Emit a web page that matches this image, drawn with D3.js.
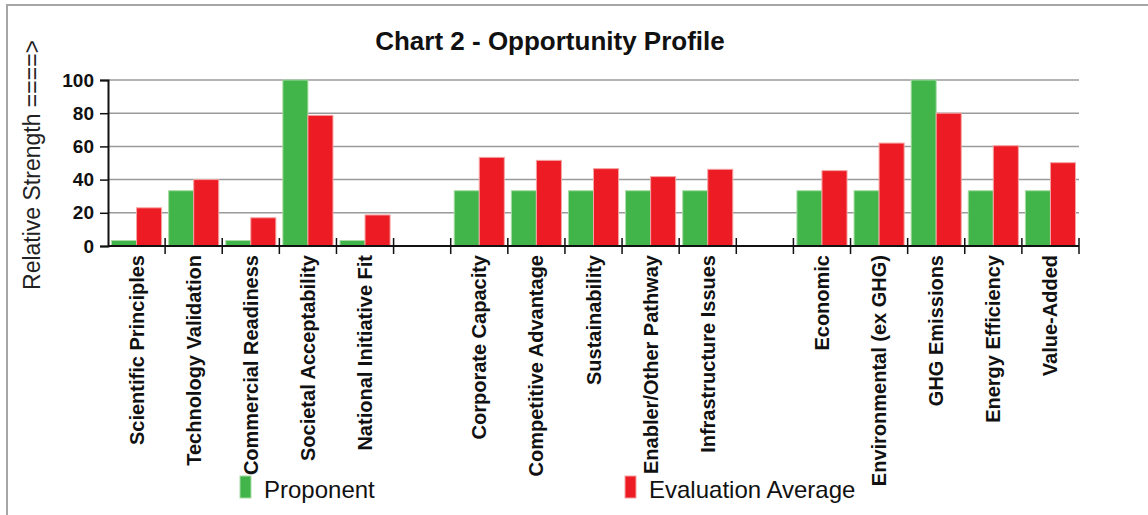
<!DOCTYPE html>
<html>
<head>
<meta charset="utf-8">
<script src="https://cdn.jsdelivr.net/npm/d3@7"></script>
<style>
  body { margin: 0; background: #fff; }
  text { font-family: "Liberation Sans", Arial, sans-serif; }
</style>
</head>
<body>
<div id="chart"></div>
<script>
// slots of the chart, "" marks an empty gap slot
var categories = ["Scientific Principles", "Technology Validation", "Commercial Readiness",
    "Societal Acceptability", "National Initiative Fit", "",
    "Corporate Capacity", "Competitive Advantage", "Sustainability",
    "Enabler/Other Pathway", "Infrastructure Issues", "",
    "Economic", "Environmental (ex GHG)", "GHG Emissions", "Energy Efficiency", "Value-Added"];

var proponent = [3.3, 33.3, 3.3, 100, 3.3, null,
    33.3, 33.3, 33.3, 33.3, 33.3, null,
    33.3, 33.3, 100, 33.3, 33.3];

var evaluationAverage = [23, 40, 17, 78.7, 18.7, null,
    53.4, 51.6, 46.6, 41.8, 46.2, null,
    45.4, 62, 80, 60.4, 50.2];

var seriesNames = ["Proponent", "Evaluation Average"];
var yTicks = [0, 20, 40, 60, 80, 100];

var width = 1148;
var height = 515;
var colors = { "Proponent": "#41b549", "Evaluation Average": "#ed1c24" };
var strokes = { "Proponent": "#a9dca6", "Evaluation Average": "#f6a3a3" };

var svg = d3.select('#chart')
    .append('svg')
    .attr('width', width)
    .attr('height', height);

// frame
svg.append('path')
    .attr('d', 'M7,' + height + 'V5H' + width)
    .attr('fill', 'none')
    .attr('stroke', '#a6a6a6')
    .attr('stroke-width', 2);

var plotLeft = 108, plotRight = 1079, plotTop = 80, plotBottom = 246;

var x0 = d3.scaleBand()
    .domain(d3.range(categories.length))
    .range([plotLeft, plotRight])
    .padding(0);

var x1 = d3.scaleBand()
    .domain(seriesNames)
    .range([0, x0.bandwidth()])
    .paddingInner(0)
    .paddingOuter(0.14);

var y = d3.scaleLinear()
    .domain([0, 100])
    .range([plotBottom, plotTop]);

// gridlines
svg.append('g')
    .selectAll('line')
    .data(yTicks.filter(function (d) { return d > 0; }))
    .enter()
    .append('line')
    .attr('x1', plotLeft)
    .attr('x2', plotRight)
    .attr('y1', function (d) { return y(d); })
    .attr('y2', function (d) { return y(d); })
    .attr('stroke', '#9a9a9a')
    .attr('stroke-width', 1.5);

// x ticks crossing the axis at each slot boundary
var bounds = d3.range(categories.length + 1).map(function (i) {
    return i < categories.length ? x0(i) : x0(i - 1) + x0.bandwidth();
});
svg.append('g')
    .selectAll('line')
    .data(bounds.slice(1))
    .enter()
    .append('line')
    .attr('x1', function (d) { return d; })
    .attr('x2', function (d) { return d; })
    .attr('y1', plotBottom - 8)
    .attr('y2', plotBottom + 8)
    .attr('stroke', '#111')
    .attr('stroke-width', 1.5);

// bars
var rows = categories.map(function (c, i) {
    return { i: i, values: [
        { key: "Proponent", value: proponent[i] },
        { key: "Evaluation Average", value: evaluationAverage[i] }
    ] };
});

svg.append('g')
    .selectAll('g')
    .data(rows)
    .enter()
    .append('g')
    .attr('transform', function (d) { return 'translate(' + x0(d.i) + ',0)'; })
    .selectAll('rect')
    .data(function (d) { return d.values.filter(function (v) { return v.value != null; }); })
    .enter()
    .append('rect')
    .attr('x', function (d) { return x1(d.key); })
    .attr('width', x1.bandwidth())
    .attr('y', function (d) { return y(d.value); })
    .attr('height', function (d) { return plotBottom - y(d.value); })
    .attr('fill', function (d) { return colors[d.key]; })
    .attr('stroke', function (d) { return strokes[d.key]; })
    .attr('stroke-width', 1);

// y axis
var yAxis = svg.append('g')
    .attr('transform', 'translate(' + plotLeft + ',0)')
    .call(d3.axisLeft(y).tickValues(yTicks).tickSize(8).tickPadding(6));
yAxis.select('.domain').attr('stroke', '#111').attr('stroke-width', 2);
yAxis.selectAll('.tick line').attr('stroke', '#111').attr('stroke-width', 1.5);
yAxis.selectAll('.tick text')
    .attr('fill', '#111')
    .style('font-size', '19px')
    .style('font-weight', 'bold')
    .style('font-family', '"Liberation Sans", Arial, sans-serif');

// x axis line
svg.append('line')
    .attr('x1', plotLeft)
    .attr('x2', plotRight)
    .attr('y1', plotBottom)
    .attr('y2', plotBottom)
    .attr('stroke', '#111')
    .attr('stroke-width', 2);

// category labels
svg.append('g')
    .selectAll('text')
    .data(categories.map(function (c, i) { return { c: c, i: i }; }).filter(function (d) { return d.c; }))
    .enter()
    .append('text')
    .attr('transform', function (d) {
        return 'translate(' + (x0(d.i) + x0.bandwidth() / 2) + ',' + (plotBottom + 9) + ') rotate(-90)';
    })
    .attr('text-anchor', 'end')
    .attr('dy', '0.35em')
    .style('font-size', '20px')
    .style('font-weight', 'bold')
    .attr('fill', '#111')
    .text(function (d) { return d.c; });

// title
svg.append('text')
    .attr('x', 550)
    .attr('y', 50)
    .attr('text-anchor', 'middle')
    .style('font-size', '26px')
    .style('font-weight', 'bold')
    .attr('fill', '#111')
    .text('Chart 2 - Opportunity Profile');

// y title
svg.append('text')
    .attr('transform', 'translate(40,165) rotate(-90)')
    .attr('text-anchor', 'middle')
    .style('font-size', '23px')
    .attr('fill', '#222')
    .text('Relative Strength ====>');

// legend
var legendX = { "Proponent": 240, "Evaluation Average": 625 };
var legend = svg.selectAll('.legend')
    .data(seriesNames)
    .enter()
    .append('g')
    .attr('class', 'legend')
    .attr('transform', function (d) { return 'translate(' + legendX[d] + ',476)'; });

legend.append('rect')
    .attr('width', 11)
    .attr('height', 22)
    .attr('fill', function (d) { return colors[d]; })
    .attr('stroke', function (d) { return strokes[d]; })
    .attr('stroke-width', 1);

legend.append('text')
    .attr('x', 24)
    .attr('y', 22)
    .style('font-size', '24px')
    .attr('fill', '#111')
    .text(function (d) { return d; });
</script>
</body>
</html>
